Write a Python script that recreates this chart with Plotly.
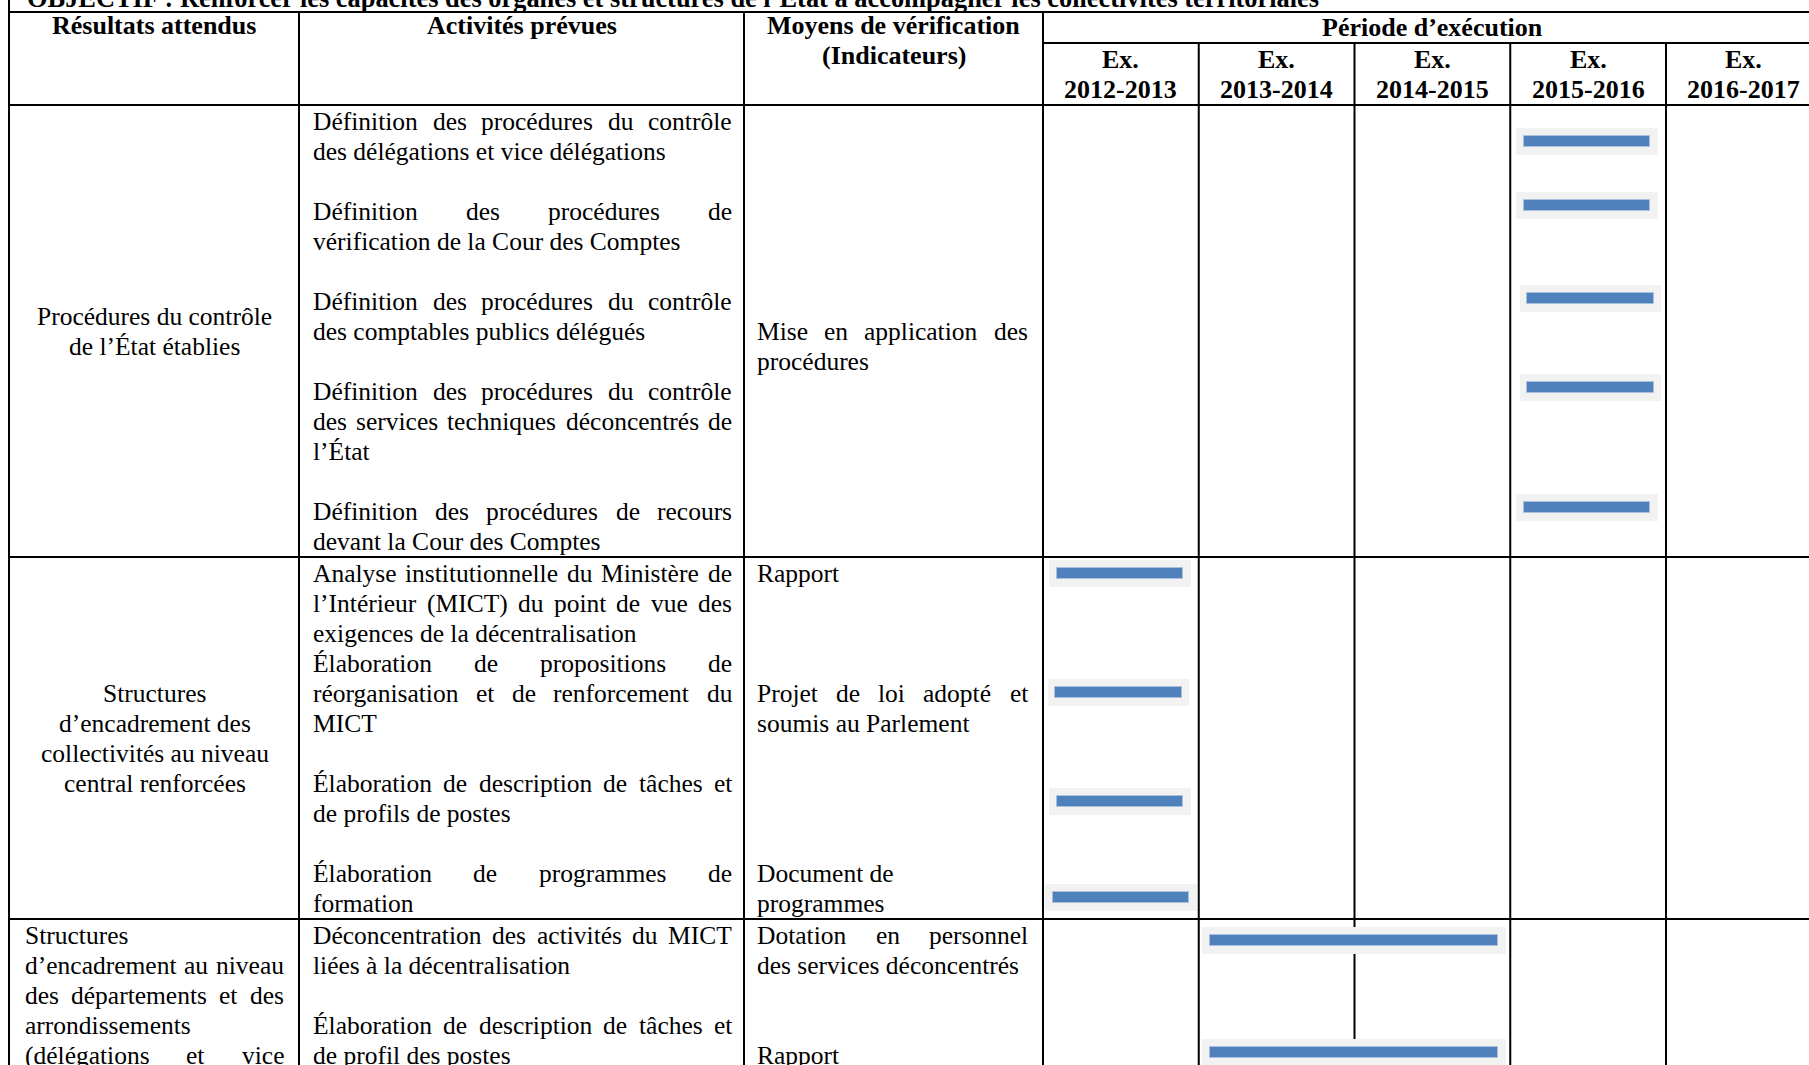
import unicodedata
import plotly.graph_objects as go

# ------------------------------------------------------------------ data
OBJECTIF = ("OBJECTIF : Renforcer les capacités des organes et structures de l’État "
            "à accompagner les collectivités territoriales")
COL_HEADERS = [["Résultats attendus"], ["Activités prévues"],
               ["Moyens de vérification", "(Indicateurs)"]]
PERIOD_HEADER = "Période d’exécution"
PERIOD_PREFIX = "Ex."
PERIODS = ["2012-2013", "2013-2014", "2014-2015", "2015-2016", "2016-2017"]

RESULTATS = [
    ["Procédures du contrôle", "de l’État établies"],
    ["Structures", "d’encadrement des", "collectivités au niveau", "central renforcées"],
    ["Structures", "d’encadrement au niveau", "des départements et des",
     "arrondissements", "(délégations et vice"],
]

ACTIVITES = [
    ["Définition des procédures du contrôle",
     "des délégations et vice délégations",
     "",
     "Définition des procédures de",
     "vérification de la Cour des Comptes",
     "",
     "Définition des procédures du contrôle",
     "des comptables publics délégués",
     "",
     "Définition des procédures du contrôle",
     "des services techniques déconcentrés de",
     "l’État",
     "",
     "Définition des procédures de recours",
     "devant la Cour des Comptes"],
    ["Analyse institutionnelle du Ministère de",
     "l’Intérieur (MICT) du point de vue des",
     "exigences de la décentralisation",
     "Élaboration de propositions de",
     "réorganisation et de renforcement du",
     "MICT",
     "",
     "Élaboration de description de tâches et",
     "de profils de postes",
     "",
     "Élaboration de programmes de",
     "formation"],
    ["Déconcentration des activités du MICT",
     "liées à la décentralisation",
     "",
     "Élaboration de description de tâches et",
     "de profil des postes"],
]

MOYENS = [
    ["", "", "", "", "", "", "", "Mise en application des", "procédures"],
    ["Rapport", "", "", "", "Projet de loi adopté et", "soumis au Parlement",
     "", "", "", "", "Document de", "programmes"],
    ["Dotation en personnel", "des services déconcentrés", "", "", "Rapport"],
]

# Gantt bars: period index units (0 = start of Ex. 2012-2013)
BAR_ACTIVITY = ["Contrôle délégations", "Vérification Cour des Comptes",
                "Contrôle comptables publics", "Contrôle services techniques",
                "Recours Cour des Comptes", "Analyse institutionnelle MICT",
                "Propositions de réorganisation", "Description de tâches",
                "Programmes de formation", "Déconcentration MICT",
                "Description de tâches (dép.)"]
BAR_START = [3.09, 3.09, 3.11, 3.11, 3.09, 0.09, 0.08, 0.09, 0.065, 1.07, 1.07]
BAR_END = [3.90, 3.90, 3.92, 3.92, 3.90, 0.90, 0.89, 0.90, 0.94, 2.92, 2.92]

# ------------------------------------------------------------------ layout
W, H = 1809, 1065
OFF = 0                               # page body margin removed by post_script
FW, FH = W - OFF, H - OFF             # figure size
FONT = "Liberation Serif"
BODY = 25.5
HEAD = 26
OBJ_SIZE = 26.4
LINE_H = 30
COL_X = [9, 299, 744, 1043]          # left, col separators, start of periods
PERIOD_X0, PERIOD_W = 1043, 155.75   # pixel of period 0 and width of a period
Y_TOP, Y_SUB, Y_HEAD = 12, 43, 105
SECTION_Y = [105, 557, 919, 1065]
FIRST_LINE_OFFSET = 16
BAR_ROW = [0.68, 2.82, 5.9, 8.87, 12.88, 0.0, 3.98, 7.62, 10.82, 0.18, 3.92]
BAR_SEC = [0, 0, 0, 0, 0, 1, 1, 1, 1, 2, 2]
BAR_THICK, BG_THICK, BG_PAD = 11, 27, 0.05
BAR_COLOR, BG_COLOR = "#4f81bd", "#f2f2f2"
LEFT_ONLY = {"Document de", "exigences de la décentralisation"}
CONTINUES = {"(délégations et vice"}

# Times/Liberation Serif regular advance widths (1/1000 em)
REG_W = dict(zip("abcdefghijklmnopqrstuvwxyz",
                 [444, 500, 444, 500, 444, 333, 500, 500, 278, 278, 500, 278, 778,
                  500, 500, 500, 500, 333, 389, 278, 500, 500, 722, 500, 500, 444]))
REG_W.update(zip("ABCDEFGHIJKLMNOPQRSTUVWXYZ",
                 [722, 667, 667, 722, 611, 556, 722, 722, 333, 389, 722, 611, 889,
                  722, 722, 556, 722, 667, 556, 611, 722, 722, 944, 722, 722, 611]))
REG_W.update({" ": 250, "(": 333, ")": 333, "-": 333, "’": 333, "'": 180,
              ".": 250, ",": 250, ":": 278})


def text_w(s, size):
    tot = 0
    for ch in s:
        w = REG_W.get(ch)
        if w is None:
            w = REG_W.get(unicodedata.normalize("NFD", ch)[0], 500)
        tot += w
    return tot * size / 1000.0


def px(x):
    return (x - OFF) / FW


annotations = []


def ann(text, xpx, ypx, xanchor="left", size=BODY, bold=False, xref="paper"):
    annotations.append(dict(
        text=f"<b>{text}</b>" if bold else text,
        x=px(xpx) if xref == "paper" else xpx, xref=xref,
        y=ypx, yref="y", xanchor=xanchor, yanchor="middle",
        showarrow=False, borderpad=0, borderwidth=0,
        font=dict(family=FONT, size=size, color="black")))


def place_block(lines, first_y, left, right, center=False):
    for k, line in enumerate(lines):
        if not line:
            continue
        y = first_y + k * LINE_H
        if center:
            ann(line, (left + right) / 2, y, "center")
            continue
        words = line.split(" ")
        nxt = lines[k + 1] if k + 1 < len(lines) else ""
        justify = (len(words) > 1 and line not in LEFT_ONLY
                   and (nxt != "" or line in CONTINUES))
        if not justify:
            ann(line, left, y)
            continue
        ws = [text_w(w, BODY) for w in words]
        gap = (right - left - sum(ws)) / (len(words) - 1)
        x = left
        for w, wl in zip(words, ws):
            ann(w, x, y)
            x += wl + gap


# header texts
annotations.append(dict(text=f"<b>{OBJECTIF}</b>", x=px(27), xref="paper", y=13,
                        yref="y", xanchor="left", yanchor="bottom", showarrow=False,
                        borderpad=0, borderwidth=0,
                        font=dict(family=FONT, size=OBJ_SIZE, color="black")))
for i, hdr in enumerate(COL_HEADERS):
    cx = (COL_X[i] + COL_X[i + 1]) / 2
    for j, t in enumerate(hdr):
        ann(t, cx, 25 + j * 30, "center", HEAD, True)
ann(PERIOD_HEADER, (PERIOD_X0 + PERIOD_X0 + PERIOD_W * len(PERIODS)) / 2, 27,
    "center", HEAD, True)
for i, p in enumerate(PERIODS):
    ann(PERIOD_PREFIX, i + 0.5, 59, "center", HEAD, True, xref="x")
    ann(p, i + 0.5, 89, "center", HEAD, True, xref="x")

# body texts
for s in range(3):
    top, bot = SECTION_Y[s], SECTION_Y[s + 1]
    first = top + FIRST_LINE_OFFSET
    if s < 2:
        n = len(RESULTATS[s])
        mid = (top + bot) / 2
        place_block(RESULTATS[s], mid - (n - 1) / 2 * LINE_H, 25, 284, center=True)
    else:
        place_block(RESULTATS[s], first, 25, 284)
    place_block(ACTIVITES[s], first, 313, 732)
    place_block(MOYENS[s], first, 757, 1028)

# table lines
shapes = []
LW = 2


def pline(x0, y0, x1, y1, xref="paper"):
    shapes.append(dict(type="line", xref=xref, yref="y",
                       x0=px(x0) if xref == "paper" else x0,
                       x1=px(x1) if xref == "paper" else x1,
                       y0=y0, y1=y1, layer="below",
                       line=dict(color="black", width=LW)))


pline(COL_X[0], 0, COL_X[0], H)
pline(COL_X[0], Y_TOP, W, Y_TOP)
for x in COL_X[1:]:
    pline(x, Y_TOP, x, H)
pline(COL_X[3], Y_SUB, W, Y_SUB)
for yy in SECTION_Y[:3]:
    pline(COL_X[0], yy, W, yy)
for i in range(1, len(PERIODS)):
    pline(i, Y_SUB, i, H, xref="x")

# bars
bar_y = [SECTION_Y[s] + FIRST_LINE_OFFSET + r * LINE_H for s, r in zip(BAR_SEC, BAR_ROW)]
dur = [e - b for b, e in zip(BAR_START, BAR_END)]
fig = go.Figure()
fig.add_trace(go.Bar(orientation="h", y=bar_y, x=[d + 2 * BG_PAD for d in dur],
                     base=[b - BG_PAD for b in BAR_START], width=BG_THICK,
                     marker=dict(color=BG_COLOR, line=dict(width=0)),
                     hoverinfo="skip", showlegend=False))
fig.add_trace(go.Bar(orientation="h", y=bar_y, x=dur, base=BAR_START,
                     width=BAR_THICK, text=BAR_ACTIVITY, textposition="none",
                     marker=dict(color=BAR_COLOR, line=dict(color="#a9c0dd", width=1)),
                     showlegend=False))

fig.update_layout(
    width=FW, height=FH, margin=dict(l=0, r=0, t=0, b=0, pad=0),
    paper_bgcolor="white", plot_bgcolor="rgba(0,0,0,0)",
    barmode="overlay", bargap=0, showlegend=False,
    xaxis=dict(domain=[0, 1],
               range=[(OFF - PERIOD_X0) / PERIOD_W, (W - PERIOD_X0) / PERIOD_W],
               visible=False, fixedrange=True),
    yaxis=dict(domain=[0, 1], range=[H, OFF], visible=False, fixedrange=True),
    annotations=annotations, shapes=shapes,
)
fig.write_html("out.html", config={"displayModeBar": False},
               post_script="document.body.style.margin='0px';"
                           "document.body.style.overflow='hidden';")
